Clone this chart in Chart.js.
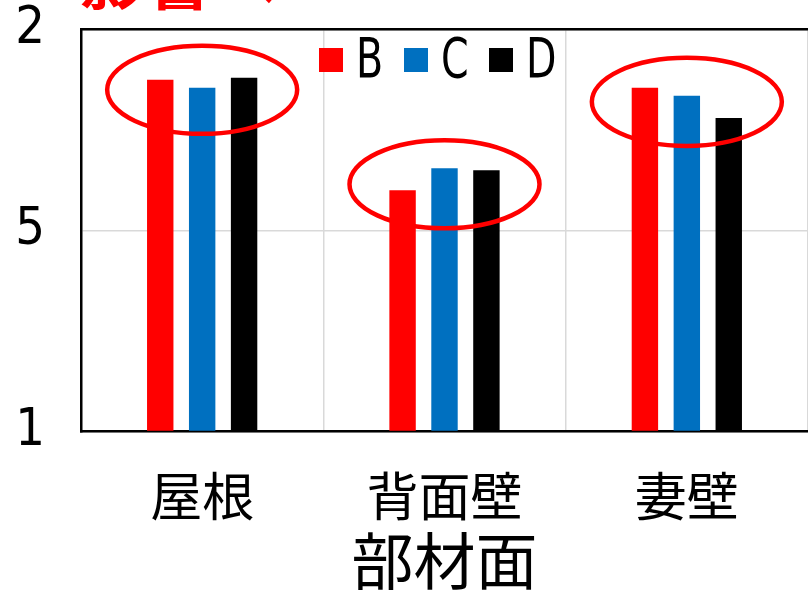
<!DOCTYPE html>
<html>
<head>
<meta charset="utf-8">
<script src="https://cdn.jsdelivr.net/npm/chart.js@4/dist/chart.umd.min.js"></script>
<style>
  html, body { margin: 0; padding: 0; background: #ffffff; overflow: hidden; }
  #wrap { width: 808px; height: 592px; }
</style>
</head>
<body>
<div id="wrap"><canvas id="c" width="808" height="592"></canvas></div>
<script>
// Groups along the x axis and the three series
const categories = ['屋根', '背面壁', '妻壁'];
const seriesNames = ['B', 'C', 'D'];
const valuesB = [1.75, 1.20, 1.71];
const valuesC = [1.71, 1.31, 1.67];
const valuesD = [1.76, 1.30, 1.56];

// Y axis tick values and the labels printed beside them
const yTickValues = [0, 1, 2];
const yTickLabels = ['1', '5', '2'];

// Level (in y units) at which each group's highlight ring is centred
const ringCenters = [1.70, 1.23, 1.64];

const headingText = '影響へ';
const axisTitle = '部材面';

const CJK = '"Noto Sans CJK JP", "Noto Sans CJK SC", sans-serif';
const NARROW = '"Liberation Sans Narrow", "DejaVu Sans Condensed", "Liberation Sans", sans-serif';

// Red rings drawn around each group of bars
const groupRings = {
  id: 'groupRings',
  afterDatasetsDraw(chart, args, opts) {
    const { ctx, scales: { x, y } } = chart;
    const catW = x.getPixelForValue(1) - x.getPixelForValue(0);
    ctx.save();
    ctx.strokeStyle = opts.color;
    ctx.lineWidth = opts.lineWidth;
    ringCenters.forEach((c, i) => {
      const cx = x.getPixelForValue(i);
      const cy = y.getPixelForValue(c);
      const ry = Math.abs(y.getPixelForValue(c + opts.halfSpan) - cy);
      ctx.beginPath();
      ctx.ellipse(cx, cy, catW * opts.widthRatio, ry, 0, 0, Math.PI * 2);
      ctx.stroke();
    });
    ctx.restore();
  }
};

// Legend laid over the top of the plot area (labels squeezed horizontally)
const insideLegend = {
  id: 'insideLegend',
  afterDraw(chart, args, opts) {
    const { ctx, chartArea } = chart;
    ctx.save();
    ctx.font = opts.font;
    ctx.textBaseline = 'alphabetic';
    ctx.textAlign = 'left';
    chart.data.datasets.forEach((ds, i) => {
      const left = chartArea.left + opts.offsetX + i * opts.step;
      ctx.fillStyle = ds.backgroundColor;
      ctx.fillRect(left, opts.top, opts.box, opts.box);
      ctx.fillStyle = '#000000';
      ctx.save();
      ctx.translate(left + opts.box + opts.gap, opts.baseline);
      ctx.scale(opts.squeeze, 1);
      ctx.fillText(ds.label, 0, 0);
      ctx.restore();
    });
    ctx.restore();
  }
};

// Heading running off the top edge
const heading = {
  id: 'heading',
  afterDraw(chart, args, opts) {
    const { ctx } = chart;
    ctx.save();
    ctx.font = opts.font;
    ctx.fillStyle = opts.color;
    ctx.textBaseline = 'alphabetic';
    ctx.textAlign = 'left';
    ctx.fillText(headingText, opts.x, opts.y);
    ctx.restore();
  }
};

new Chart(document.getElementById('c'), {
  type: 'bar',
  data: {
    labels: categories,
    datasets: [
      { label: seriesNames[0], data: valuesB, backgroundColor: '#ff0000' },
      { label: seriesNames[1], data: valuesC, backgroundColor: '#0070c0' },
      { label: seriesNames[2], data: valuesD, backgroundColor: '#000000' }
    ]
  },
  options: {
    responsive: false,
    animation: false,
    devicePixelRatio: 1,
    datasets: {
      bar: { categoryPercentage: 0.519, barPercentage: 0.63, borderWidth: 0 }
    },
    layout: { padding: { top: 29.5, right: -2, left: 0, bottom: 0 } },
    plugins: {
      legend: { display: false },
      tooltip: { enabled: false },
      groupRings: { color: '#ff0000', lineWidth: 4.5, widthRatio: 0.392, halfSpan: 0.219 },
      insideLegend: { font: '55px ' + NARROW, squeeze: 0.8, offsetX: 238, step: 85, top: 48, box: 24, gap: 13, baseline: 77 },
      heading: { font: 'bold 66px ' + CJK, color: '#ff0000', x: 80, y: 4 }
    },
    scales: {
      x: {
        type: 'category',
        position: 'bottom',
        offset: true,
        grid: { color: '#d9d9d9', lineWidth: 1.5, drawTicks: false, offset: true },
        border: { display: true, color: '#000000', width: 2.5 },
        ticks: {
          color: '#000000',
          font: { family: CJK, size: 52 },
          padding: 34,
          maxRotation: 0,
          autoSkip: false
        },
        title: {
          display: true,
          text: axisTitle,
          color: '#000000',
          font: { family: CJK, size: 62, lineHeight: 1 },
          padding: { top: 5, bottom: 0 }
        },
        afterFit(s) { s.height = 160.5; s.paddingLeft = 0; s.paddingRight = 0; }
      },
      xTop: {
        type: 'category',
        position: 'top',
        labels: categories,
        grid: { display: false, drawTicks: false },
        border: { display: true, color: '#000000', width: 2.5 },
        ticks: { display: false },
        afterFit(s) { s.height = 0; s.paddingLeft = 0; s.paddingRight = 0; }
      },
      y: {
        min: 0,
        max: 2,
        afterBuildTicks(s) { s.ticks = yTickValues.map(v => ({ value: v })); },
        grid: { color: '#d9d9d9', lineWidth: 1.5, drawTicks: false },
        border: { display: true, color: '#000000', width: 2.5 },
        ticks: {
          color: '#000000',
          font: { family: NARROW, size: 52 },
          padding: 36,
          callback(v) { return yTickLabels[yTickValues.indexOf(v)]; }
        },
        afterFit(s) { s.width = 81; s.paddingTop = 0; s.paddingBottom = 0; }
      }
    }
  },
  plugins: [groupRings, insideLegend, heading]
});
</script>
</body>
</html>
